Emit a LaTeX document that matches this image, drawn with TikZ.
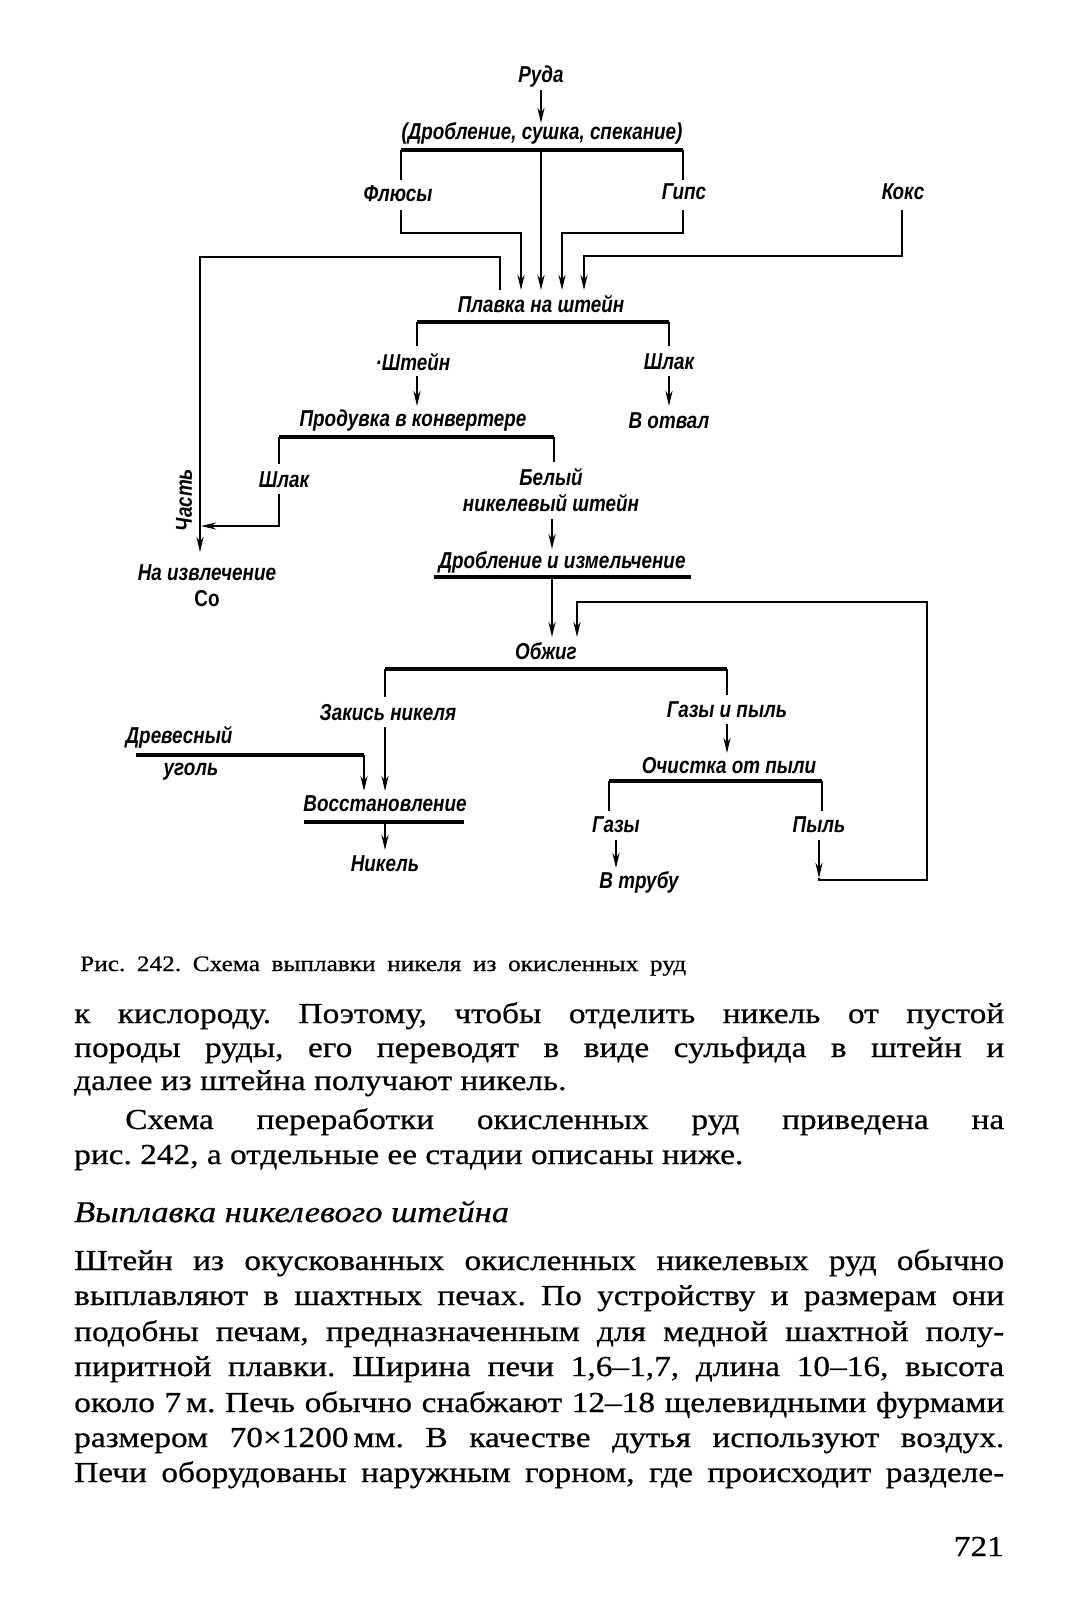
\documentclass[tikz,border=0pt]{standalone}
\usepackage{fontspec}
\setmainfont{Liberation Serif}[FakeStretch=1.15, FakeBold=0.6]
\newfontfamily\dfont{Liberation Sans}[FakeStretch=0.82]
\usetikzlibrary{arrows.meta}
\frenchspacing
\begin{document}
\begin{tikzpicture}[x=1pt,y=-1pt,
  lbl/.style={font=\dfont\bfseries\itshape\fontsize{23}{26}\selectfont, inner sep=1pt, align=center},
  ln/.style={line width=2.4pt},
  bar/.style={line width=4pt},
  arr/.style={line width=2.4pt,-{Stealth[length=15pt,width=7pt]}},
  body/.style={font=\fontsize{29}{35}\selectfont, anchor=base west, inner sep=0pt}
]
\fill[white] (0,0) rectangle (1076,1600);
\useasboundingbox (0,0) rectangle (1076,1600);

% ---- nodes
\node[lbl] (ruda)   at (541,77)  {Руда};
\node[lbl] (drob)   at (542,133) {(Дробление, сушка, спекание)};
\node[lbl] (flux)   at (398,194) {Флюсы};
\node[lbl] (gips)   at (684,192) {Гипс};
\node[lbl] (koks)   at (903,192) {Кокс};
\node[lbl] (plavka) at (541,304) {Плавка на штейн};
\node[lbl] (shtein) at (413,362) {·Штейн};
\node[lbl] (shlaka) at (669,362) {Шлак};
\node[lbl] (otval)  at (669,421) {В отвал};
\node[lbl] (produv) at (413,421) {Продувка в конвертере};
\node[lbl] (shlakb) at (284,480) {Шлак};
\node[lbl] (belyi)  at (551,490) {Белый\\никелевый штейн};
\node[lbl, rotate=90] (chast) at (184,500) {Часть};
\node[lbl] (izvl)   at (207,586) {На извлечение\\{\upshape Co}};
\node[lbl] (drobb)  at (562,562) {Дробление и измельчение};
\node[lbl] (obzhig) at (546,651) {Обжиг};
\node[lbl] (zakis)  at (388,713) {Закись никеля};
\node[lbl] (gazpyl) at (727,710) {Газы и пыль};
\node[lbl] (drev)   at (179,737) {Древесный};
\node[lbl] (ugol)   at (191,772) {уголь};
\node[lbl] (vosst)  at (385,804) {Восстановление};
\node[lbl] (nikel)  at (385,864) {Никель};
\node[lbl] (ochist) at (729,766) {Очистка от пыли};
\node[lbl] (gazy)   at (616,825) {Газы};
\node[lbl] (pyl)    at (819,825) {Пыль};
\node[lbl] (vtrubu) at (639,882) {В трубу};

% ---- connectors
\draw[arr] (541,90) -- (541,123);
\draw[bar] (401,150) -- (683,150);
\draw[ln] (401,150) -- (401,180);
\draw[ln] (683,150) -- (683,180);
\draw[arr] (541,150) -- (541,290);
\draw[arr] (401,210) -- (401,233) -- (521,233) -- (521,290);
\draw[arr] (683,210) -- (683,233) -- (562,233) -- (562,290);
\draw[arr] (902,210) -- (902,256) -- (584,256) -- (584,290);
\draw[arr] (500,290) -- (500,257) -- (200,257) -- (200,552);
\draw[bar] (417,322) -- (669,322);
\draw[ln] (417,322) -- (417,346);
\draw[ln] (669,322) -- (669,346);
\draw[arr] (417,376) -- (417,406);
\draw[arr] (669,376) -- (669,406);
\draw[bar] (279,437) -- (554,437);
\draw[ln] (279,437) -- (279,464);
\draw[ln] (554,437) -- (554,462);
\draw[arr] (279,494) -- (279,526) -- (201,526);
\draw[arr] (552,519) -- (552,549);
\draw[bar] (434,577) -- (691,577);
\draw[arr] (552,577) -- (552,637);
\draw[arr] (819,840) -- (819,878);
\draw[arr] (819,878) -- (819,880) -- (927,880) -- (927,602) -- (577,602) -- (577,637);
\draw[bar] (385,669) -- (727,669);
\draw[ln] (385,669) -- (385,697);
\draw[ln] (727,669) -- (727,695);
\draw[arr] (385,727) -- (385,791);
\draw[bar] (136,755) -- (364,755);
\draw[arr] (364,755) -- (364,791);
\draw[bar] (304,822) -- (464,822);
\draw[arr] (385,822) -- (385,850);
\draw[arr] (727,724) -- (727,753);
\draw[bar] (609,781) -- (822,781);
\draw[ln] (609,781) -- (609,811);
\draw[ln] (822,781) -- (822,811);
\draw[arr] (616,840) -- (616,868);

% ---- caption and page text
\node[body, font=\fontsize{22}{26}\selectfont] (cap) at (80,971) {\makebox[606pt][s]{Рис. 242. Схема выплавки никеля из окисленных руд}};
\node[body] (l1) at (74,1023) {\makebox[930pt][s]{к кислороду. Поэтому, чтобы отделить никель от пустой}};
\node[body] (l2) at (74,1057) {\makebox[930pt][s]{породы руды, его переводят в виде сульфида в штейн и}};
\node[body] (l3) at (74,1090) {далее из штейна получают никель.};
\node[body] (l4) at (125,1129) {\makebox[879pt][s]{Схема переработки окисленных руд приведена на}};
\node[body] (l5) at (74,1164) {рис. 242, а отдельные ее стадии описаны ниже.};
\node[body, font=\fontsize{30}{35}\selectfont\itshape] (hd) at (74,1222) {Выплавка никелевого штейна};
\node[body] (m1) at (74,1270) {\makebox[930pt][s]{Штейн из окускованных окисленных никелевых руд обычно}};
\node[body] (m2) at (74,1305) {\makebox[930pt][s]{выплавляют в шахтных печах. По устройству и размерам они}};
\node[body] (m3) at (74,1341) {\makebox[930pt][s]{подобны печам, предназначенным для медной шахтной полу-}};
\node[body] (m4) at (74,1376) {\makebox[930pt][s]{пиритной плавки. Ширина печи 1,6–1,7, длина 10–16, высота}};
\node[body] (m5) at (74,1412) {\makebox[930pt][s]{около 7\,м. Печь обычно снабжают 12–18 щелевидными фурмами}};
\node[body] (m6) at (74,1447) {\makebox[930pt][s]{размером 70×1200\,мм. В качестве дутья используют воздух.}};
\node[body] (m7) at (74,1482) {\makebox[930pt][s]{Печи оборудованы наружным горном, где происходит разделе-}};
\node[body, anchor=base east] (pg) at (1004,1556) {721};
\end{tikzpicture}
\end{document}
